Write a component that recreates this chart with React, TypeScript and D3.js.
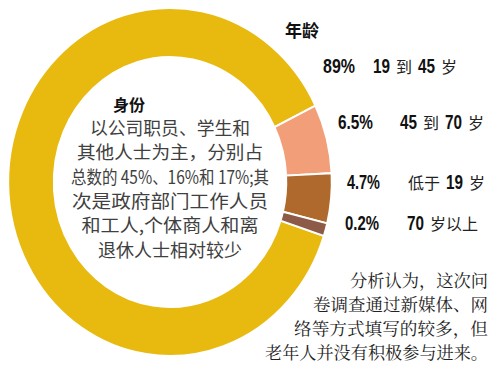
import React from 'react';
import * as d3 from 'd3';

// age groups (年龄), clockwise starting after the big slice
const ageGroups = ['19 到 45 岁', '45 到 70 岁', '低于 19 岁', '70 岁以上'];
const ageShares = [89, 6.5, 4.7, 0.2];
const ageLabels = ['89%', '6.5%', '4.7%', '0.2%'];
const sliceColors = ['#E8B90F', '#F29F79', '#B0692D', '#8C5A46'];

const centerLines = [
  '以公司职员、学生和',
  '其他人士为主，分别占',
  '总数的 45%、16%和 17%;其',
  '次是政府部门工作人员',
  '和工人,个体商人和离',
  '退休人士相对较少',
];

const noteLines = [
  '分析认为，这次问',
  '卷调查通过新媒体、网',
  '络等方式填写的较多，但',
  '老年人并没有积极参与进来。',
];

const W = 500;
const H = 385;
const cx = 170;
const cy = 182;
const outerR = 174;
const innerR = 125;
const squeeze = 0.93;
const minShare = 1.2; // the tiny 0.2% slice is drawn bigger so it stays visible
const salmonStart = 64; // degrees, where the second slice begins

const CJK = '"Noto Sans CJK SC", "Noto Sans", sans-serif';
const NUM = '"Liberation Sans", Arial, sans-serif';

// label rows: baseline, x / width of percentage, x of group text
const rowY = [73, 129, 189, 230];
const pctX = [323, 338, 347, 345];
const pctW = [32, 35, 33, 34];
const grpX = [373, 400, 408, 407];
const digitW = 8.5;
const hanW = 16;
const gap = 6;
// widths of the wrapped lines
const centerW = [160, 186, 198, 196, 177, 144];
const noteW = [138, 175, 194, 223];

function renderGroup(txt: string, x0: number, y: number) {
  // digits bold condensed, chinese regular, each token placed on its own
  let x = x0;
  return txt.split(' ').map((p, i) => {
    const isNum = /^[0-9]+$/.test(p);
    const w = isNum ? p.length * digitW : p.length * hanW;
    const el = isNum ? (
      <text
        key={i}
        x={x}
        y={y}
        fontFamily={NUM}
        fontWeight="bold"
        fontSize={20}
        fill="#111"
        textLength={w}
        lengthAdjust="spacingAndGlyphs"
      >
        {p}
      </text>
    ) : (
      <text key={i} x={x} y={y} fontFamily={CJK} fontSize={16} fill="#222">
        {p}
      </text>
    );
    x += w + gap;
    return el;
  });
}

export default function App() {
  const values = ageShares.map((v) => Math.max(v, minShare));
  const total = d3.sum(values);
  const firstSpan = (values[0] / total) * Math.PI * 2;
  const start = (salmonStart * Math.PI) / 180 - firstSpan;

  const pie = d3
    .pie<number>()
    .value((d) => Math.max(d, minShare))
    .sort(null)
    .startAngle(start)
    .endAngle(start + Math.PI * 2);

  const arc = d3.arc<d3.PieArcDatum<number>>().innerRadius(innerR).outerRadius(outerR);
  const arcs = pie(ageShares);

  return (
    <svg
      width={W}
      height={H}
      style={{ position: 'absolute', left: 0, top: 0, background: '#fff' }}
    >
      <g transform={`translate(${cx},${cy}) scale(${squeeze},1)`}>
        {arcs.map((a, i) => (
          <path
            key={i}
            d={arc(a) || ''}
            fill={sliceColors[i]}
            stroke="#fff"
            strokeWidth={2}
            vectorEffect="non-scaling-stroke"
          />
        ))}
      </g>

      <text x={113} y={111} fontFamily={CJK} fontWeight="bold" fontSize={16} fill="#111">
        身份
      </text>
      {centerLines.map((l, i) => (
        <text
          key={i}
          x={170}
          y={135 + i * 24.3}
          textAnchor="middle"
          fontFamily={CJK}
          fontSize={18}
          fill="#404040"
          textLength={centerW[i]}
          lengthAdjust="spacingAndGlyphs"
        >
          {l}
        </text>
      ))}

      <text x={285} y={37} fontFamily={CJK} fontWeight="bold" fontSize={17} fill="#111">
        年龄
      </text>
      {ageGroups.map((g, i) => (
        <g key={i}>
          <text
            x={pctX[i]}
            y={rowY[i]}
            fontFamily={NUM}
            fontWeight="bold"
            fontSize={20}
            fill="#111"
            textLength={pctW[i]}
            lengthAdjust="spacingAndGlyphs"
          >
            {ageLabels[i]}
          </text>
          {renderGroup(g, grpX[i], rowY[i])}
        </g>
      ))}

      {noteLines.map((l, i) => (
        <text
          key={i}
          x={488}
          y={287 + i * 24}
          textAnchor="end"
          fontFamily={'"Noto Serif CJK SC", ' + CJK}
          fontSize={17}
          fill="#222"
          textLength={noteW[i]}
          lengthAdjust="spacingAndGlyphs"
        >
          {l}
        </text>
      ))}
    </svg>
  );
}
